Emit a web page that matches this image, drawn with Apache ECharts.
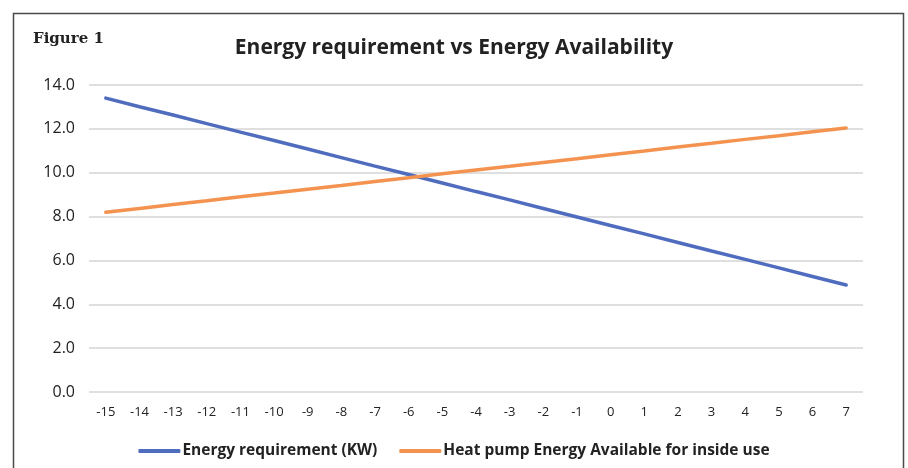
<!DOCTYPE html>
<html>
<head>
<meta charset="utf-8">
<script src="https://cdn.jsdelivr.net/npm/echarts@6/dist/echarts.min.js"></script>
<style>
  html, body { margin: 0; padding: 0; background: #fff; }
  #chart { width: 908px; height: 468px; }
</style>
</head>
<body>
<div id="chart"></div>
<script>
// outdoor temperature (x axis)
var temps = ['-15', '-14', '-13', '-12', '-11', '-10', '-9', '-8', '-7', '-6', '-5', '-4',
  '-3', '-2', '-1', '0', '1', '2', '3', '4', '5', '6', '7']
// values
var energyRequirement = [13.40, 13.01, 12.63, 12.24, 11.85, 11.47, 11.08, 10.69, 10.30, 9.92, 9.53, 9.14,
  8.76, 8.37, 7.98, 7.59, 7.21, 6.82, 6.43, 6.05, 5.66, 5.27, 4.88]
var heatPumpAvailable = [8.20, 8.37, 8.55, 8.72, 8.90, 9.07, 9.25, 9.42, 9.60, 9.77, 9.95, 10.12,
  10.29, 10.47, 10.64, 10.82, 10.99, 11.17, 11.34, 11.52, 11.69, 11.87, 12.04]
var seriesNames = ['Energy requirement (KW)', 'Heat pump Energy Available for inside use']

var chart = echarts.init(document.getElementById('chart'))
chart.setOption({
  animation: false,
  color: ['#4f6cbf', '#f3934f'],
  graphic: [
    {
      type: 'rect',
      shape: { x: 13.5, y: 13.5, width: 890, height: 480 },
      style: { fill: 'none', stroke: '#4a4a4a', lineWidth: 1.5 }
    },
    {
      type: 'text',
      left: 33,
      top: 32,
      style: {
        text: 'Figure 1',
        font: 'bold 15px "DejaVu Serif"',
        fill: '#222'
      }
    }
  ],
  title: {
    text: 'Energy requirement vs Energy Availability',
    left: 'center',
    top: 33,
    textStyle: {
      fontFamily: 'Open Sans',
      fontWeight: 'bold',
      fontSize: 21,
      color: '#222'
    }
  },
  grid: {
    left: 89,
    right: 45,
    top: 85,
    bottom: 76
  },
  legend: {
    data: seriesNames,
    bottom: 4,
    left: 'center',
    itemWidth: 42,
    itemHeight: 4,
    itemGap: 22,
    icon: 'roundRect',
    textStyle: {
      fontFamily: 'Open Sans',
      fontWeight: 'bold',
      fontSize: 15.5,
      color: '#222',
      padding: [0, 0, 0, -3]
    }
  },
  xAxis: {
    type: 'category',
    data: temps,
    boundaryGap: true,
    axisLine: { show: false },
    axisTick: { show: false },
    axisLabel: {
      margin: 14,
      fontFamily: 'Open Sans',
      fontSize: 13,
      color: '#222'
    }
  },
  yAxis: {
    type: 'value',
    min: 0,
    max: 14,
    interval: 2,
    axisLabel: {
      margin: 14,
      fontFamily: 'Open Sans',
      fontSize: 16,
      color: '#222',
      formatter: function (v) { return v.toFixed(1) }
    },
    splitLine: { lineStyle: { color: '#d4d4d4', width: 1.5 } }
  },
  series: [
    {
      name: seriesNames[0],
      type: 'line',
      data: energyRequirement,
      symbol: 'none',
      lineStyle: { width: 3.5, cap: 'round' }
    },
    {
      name: seriesNames[1],
      type: 'line',
      data: heatPumpAvailable,
      symbol: 'none',
      lineStyle: { width: 3.5, cap: 'round' }
    }
  ]
})
</script>
</body>
</html>
